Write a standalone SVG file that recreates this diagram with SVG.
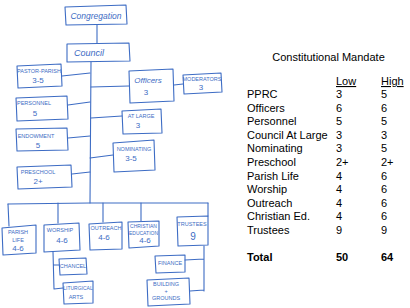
<svg xmlns="http://www.w3.org/2000/svg" width="410" height="308" viewBox="0 0 410 308">
<style>
.b{fill:none;stroke:#3d6cc4;stroke-width:1.1;stroke-linejoin:round}
.c{fill:none;stroke:#3d6cc4;stroke-width:1.1;stroke-linecap:round}
.h{font-family:"Liberation Sans",Arial,sans-serif;fill:#3d6cc4;text-anchor:middle}
.s{font-size:5.5px}
.n{font-size:8px}
.t{font-family:"Liberation Sans",Arial,sans-serif;font-size:11px;fill:#000}
.u{text-decoration:underline}
</style>
<rect width="410" height="308" fill="#fff"/>
<g id="connectors">
<path class="c" d="M97,25 L97,43"/>
<path class="c" d="M91,62 L90,203"/>
<path class="c" d="M8,204 L90,203 L208,203"/>
<path class="c" d="M8,204 L9,226 M58,203 L58,223 M103,203 L103,222 M141,203 L141,221 M208,203 L208,216"/>
<path class="c" d="M62,76 L90,73 M68,105 L90,102 M68,138 L90,136 M72,174 L90,172"/>
<path class="c" d="M91,87 L129,86 M174,85 L183,84 M91,118 L122,116 M90,158 L113,155"/>
<path class="c" d="M53,252 L54,289 M54,265 L59,265 M54,289 L63,288"/>
<path class="c" d="M204,246 L204,291 M185,260 L204,259 M190,291 L204,290"/>
</g>
<g id="congregation"><polygon class="b" points="65,7 126,5 127,24 66,25"/><text class="h" x="96" y="19" font-size="8.5" font-style="italic">Congregation</text></g>
<g id="council"><polygon class="b" points="67,44 129,43 130,61 67,62"/><text class="h" x="89" y="56" font-size="9" font-style="italic">Council</text></g>
<g id="pastor-parish"><polygon class="b" points="17,66 61,64 62,86 18,88"/><text class="h s" x="39" y="73">PASTOR-PARISH</text><text class="h n" x="38" y="83">3-5</text></g>
<g id="personnel"><polygon class="b" points="16,98 67,96 68,119 17,121"/><text class="h s" x="34" y="105">PERSONNEL</text><text class="h n" x="35" y="116">5</text></g>
<g id="endowment"><polygon class="b" points="16,129 67,128 68,150 17,151"/><text class="h s" x="36" y="138">ENDOWMENT</text><text class="h n" x="38" y="148">5</text></g>
<g id="preschool"><polygon class="b" points="17,167 71,165 72,187 18,189"/><text class="h s" x="38" y="174">PRESCHOOL</text><text class="h n" x="38" y="184">2+</text></g>
<g id="officers"><polygon class="b" points="129,71 173,69 174,101 130,103"/><text class="h" x="148" y="83" font-size="8" font-style="italic">Officers</text><text class="h n" x="146" y="95">3</text></g>
<g id="moderators"><polygon class="b" points="183,75 221,73 222,92 184,94"/><text class="h s" x="202" y="81">MODERATORS</text><text class="h n" x="201" y="90">3</text></g>
<g id="at-large"><polygon class="b" points="122,111 161,109 162,133 123,134"/><text class="h s" x="141" y="118">AT LARGE</text><text class="h n" x="138" y="128">3</text></g>
<g id="nominating"><polygon class="b" points="113,143 154,140 155,170 114,172"/><text class="h s" x="134" y="151">NOMINATING</text><text class="h n" x="131" y="161">3-5</text></g>
<g id="parish-life"><polygon class="b" points="2,228 36,225 36,253 3,255"/><text class="h s" x="18" y="234">PARISH</text><text class="h s" x="18" y="242">LIFE</text><text class="h n" x="18" y="251">4-6</text></g>
<g id="worship"><polygon class="b" points="44,225 79,223 80,250 44,252"/><text class="h s" x="60" y="232">WORSHIP</text><text class="h n" x="62" y="243">4-6</text></g>
<g id="outreach"><polygon class="b" points="89,224 122,222 122,249 90,250"/><text class="h s" x="106" y="230">OUTREACH</text><text class="h n" x="104" y="240">4-6</text></g>
<g id="christian-ed"><polygon class="b" points="128,222 159,221 159,246 129,248"/><text class="h" x="143.5" y="228" font-size="5">CHRISTIAN</text><text class="h" x="143.5" y="235" font-size="5">EDUCATION</text><text class="h n" x="145" y="243">4-6</text></g>
<g id="trustees"><polygon class="b" points="177,217 208,216 208,245 178,246"/><text class="h s" x="192" y="226">TRUSTEES</text><text class="h" x="193" y="240" font-size="10">9</text></g>
<g id="chancel"><polygon class="b" points="59,259 86,258 87,274 60,275"/><text class="h s" x="73" y="268">CHANCEL</text></g>
<g id="liturgical-arts"><polygon class="b" points="63,283 93,281 93,303 64,304"/><text class="h" x="78" y="290" font-size="5">LITURGICAL</text><text class="h s" x="76" y="299">ARTS</text></g>
<g id="finance"><polygon class="b" points="155,256 185,255 185,272 156,273"/><text class="h s" x="170" y="265">FINANCE</text></g>
<g id="building-grounds"><polygon class="b" points="147,280 189,278 190,304 148,306"/><text class="h s" x="166" y="286">BUILDING</text><text class="h s" x="166" y="293">+</text><text class="h s" x="166" y="300">GROUNDS</text></g>
<g id="mandate-table">
<text class="t" x="328.5" y="61" text-anchor="middle">Constitutional Mandate</text>
<text class="t u" x="336" y="85">Low</text><text class="t u" x="381" y="85">High</text>
<text class="t" x="247" y="98">PPRC</text><text class="t" x="336" y="98">3</text><text class="t" x="381" y="98">5</text>
<text class="t" x="247" y="111.6">Officers</text><text class="t" x="336" y="111.6">6</text><text class="t" x="381" y="111.6">6</text>
<text class="t" x="247" y="125.2">Personnel</text><text class="t" x="336" y="125.2">5</text><text class="t" x="381" y="125.2">5</text>
<text class="t" x="247" y="138.8">Council At Large</text><text class="t" x="336" y="138.8">3</text><text class="t" x="381" y="138.8">3</text>
<text class="t" x="247" y="152.4">Nominating</text><text class="t" x="336" y="152.4">3</text><text class="t" x="381" y="152.4">5</text>
<text class="t" x="247" y="166">Preschool</text><text class="t" x="336" y="166">2+</text><text class="t" x="381" y="166">2+</text>
<text class="t" x="247" y="179.6">Parish Life</text><text class="t" x="336" y="179.6">4</text><text class="t" x="381" y="179.6">6</text>
<text class="t" x="247" y="193.2">Worship</text><text class="t" x="336" y="193.2">4</text><text class="t" x="381" y="193.2">6</text>
<text class="t" x="247" y="206.8">Outreach</text><text class="t" x="336" y="206.8">4</text><text class="t" x="381" y="206.8">6</text>
<text class="t" x="247" y="220.4">Christian Ed.</text><text class="t" x="336" y="220.4">4</text><text class="t" x="381" y="220.4">6</text>
<text class="t" x="247" y="234">Trustees</text><text class="t" x="336" y="234">9</text><text class="t" x="381" y="234">9</text>
<text class="t" x="247" y="261" font-weight="bold">Total</text><text class="t" x="336" y="261" font-weight="bold">50</text><text class="t" x="381" y="261" font-weight="bold">64</text>
</g>
</svg>
